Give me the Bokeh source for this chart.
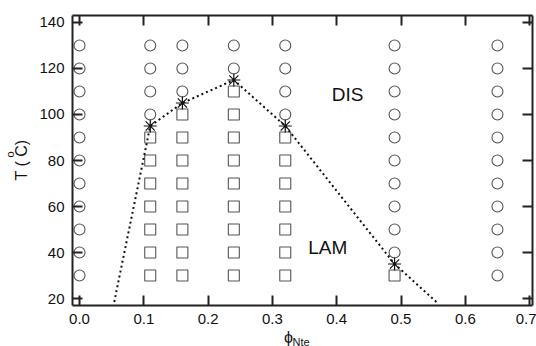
import math
from bokeh.plotting import figure
from bokeh.models import Range1d, LinearAxis, FixedTicker, PrintfTickFormatter, Label
from bokeh.embed import file_html
from bokeh.resources import INLINE

# ---- data ----
phi_cols = [0.0, 0.11, 0.16, 0.24, 0.32, 0.49, 0.65]
temps = [30, 40, 50, 60, 70, 80, 90, 100, 110, 120, 130]
# highest LAM (square) temperature per column; None -> no squares
lam_top = [None, 90, 100, 110, 90, 30, None]

boundary_phi = [0.11, 0.16, 0.24, 0.32, 0.49]
boundary_T = [95, 105, 115, 95, 35]
line_phi = [0.054, 0.11, 0.16, 0.24, 0.32, 0.49, 0.557]
line_T = [18.5, 95, 105, 115, 95, 35, 18.0]

x_ticks = [0.0, 0.1, 0.2, 0.3, 0.4, 0.5, 0.6, 0.7]
y_ticks = [20, 40, 60, 80, 100, 120, 140]

sq_x, sq_y, ci_x, ci_y = [], [], [], []
for px, top in zip(phi_cols, lam_top):
    for t in temps:
        if top is not None and t <= top:
            sq_x.append(px); sq_y.append(t)
        else:
            ci_x.append(px); ci_y.append(t)

# ---- layout ----
W, H = 536, 346
L, R, T, B = 72, 4, 15, 41
x0, x1 = -0.0109, 0.7045
y0, y1 = 16.96, 143.04

p = figure(width=W, height=H, output_backend="svg", toolbar_location=None,
           x_range=Range1d(x0, x1), y_range=Range1d(y0, y1),
           min_border_left=L, min_border_right=R, min_border_top=T, min_border_bottom=B,
           x_axis_location=None, y_axis_location=None)
p.grid.visible = False
p.outline_line_color = None
p.background_fill_color = "white"
p.border_fill_color = "white"

FONT = "Liberation Sans"
AX = "#222222"

def style(ax, labels=True):
    ax.axis_line_color = AX
    ax.axis_line_width = 2
    ax.major_tick_line_color = AX
    ax.major_tick_line_width = 2
    ax.major_tick_in = 10
    ax.major_tick_out = 0
    ax.minor_tick_line_color = None
    ax.major_label_text_font = FONT
    ax.major_label_text_font_size = "15px"
    if labels:
        ax.major_label_text_color = "#111111"
        ax.major_label_standoff = 8
    else:
        ax.major_label_text_color = None
        ax.major_label_standoff = 0

bx = LinearAxis(ticker=FixedTicker(ticks=x_ticks), formatter=PrintfTickFormatter(format="%.1f"))
style(bx)
p.add_layout(bx, "below")
tx = LinearAxis(ticker=FixedTicker(ticks=x_ticks))
style(tx, False)
p.add_layout(tx, "above")
ly = LinearAxis(ticker=FixedTicker(ticks=y_ticks))
style(ly)
p.add_layout(ly, "left")
ry = LinearAxis(ticker=FixedTicker(ticks=y_ticks))
style(ry, False)
p.add_layout(ry, "right")

# ---- markers ----
p.scatter(ci_x, ci_y, marker="circle", size=11, fill_color=None,
          line_color="#555555", line_width=1.1)
p.scatter(sq_x, sq_y, marker="square", size=11, fill_color=None,
          line_color="#555555", line_width=1.1)
p.line(line_phi, line_T, line_color="#111111", line_width=2, line_dash="2 3")
p.scatter(boundary_phi, boundary_T, marker="asterisk", size=13,
          line_color="#111111", line_width=1.2)

# ---- phase labels ----
p.add_layout(Label(x=0.417, y=108.7, text="DIS", text_font=FONT, text_font_size="19px",
                   text_color="#111111", text_align="center", text_baseline="middle"))
p.add_layout(Label(x=0.386, y=42.0, text="LAM", text_font=FONT, text_font_size="19px",
                   text_color="#111111", text_align="center", text_baseline="middle"))

# ---- axis titles built from pieces (canvas pixels, y from top), in side panels ----
def lab(side, px, py, txt, size, angle=0.0, align="center"):
    p.add_layout(Label(x=px, y=py, x_units="canvas", y_units="canvas", text=txt,
                       text_font=FONT, text_font_size=size,
                       text_color="#111111", text_align=align, text_baseline="middle",
                       angle=angle), side)

A = math.pi / 2
lab("left", 21, 155, "T (   C)", "16px", A)
lab("left", 9, 154, "o", "11px", A)
lab("below", 288, 337, "\u03d5", "16px")
lab("above", 292, 341, "Nte", "11px", align="left")

open("out.html", "w").write(file_html(p, INLINE))
